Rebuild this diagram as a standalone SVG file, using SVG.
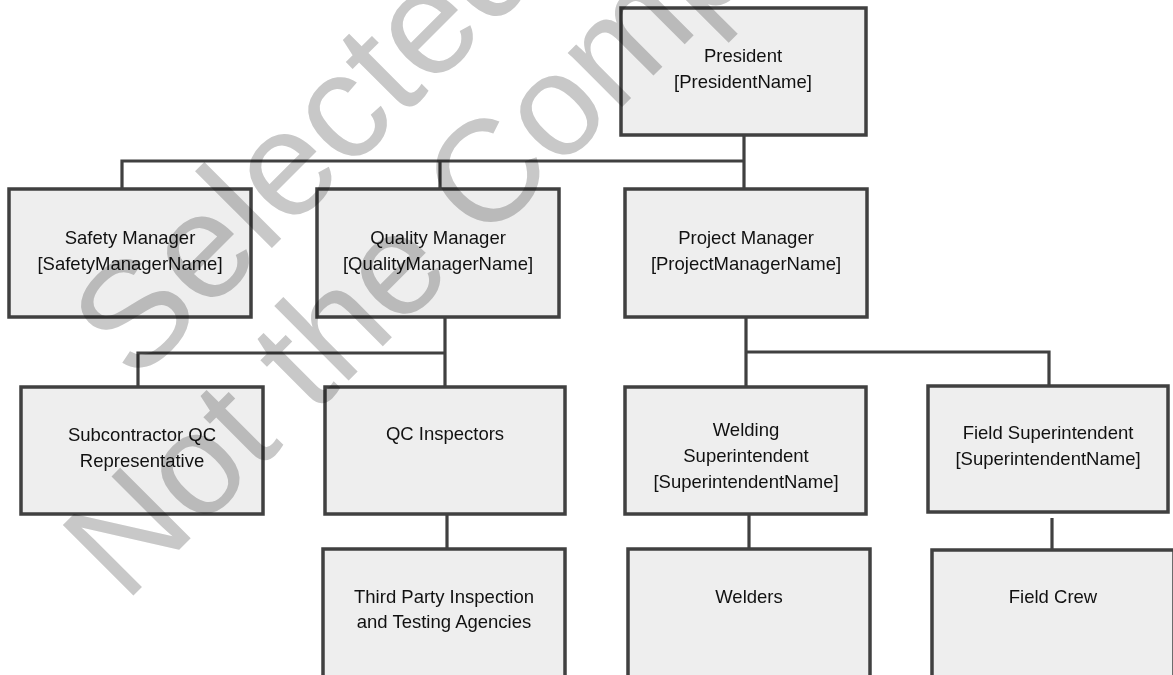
<svg xmlns="http://www.w3.org/2000/svg" width="1173" height="675" viewBox="0 0 1173 675">
<style>
.box{fill:#eeeeee;stroke:#404040;stroke-width:3.5}
.t{font-family:"Liberation Sans",Arial,sans-serif;font-size:18.5px;fill:#111;text-anchor:middle}
.c{fill:none;stroke:#404040;stroke-width:3.2}
.wm{font-family:"Liberation Sans",Arial,sans-serif;fill:#c8c8c8;mix-blend-mode:multiply}
</style>
<rect width="1173" height="675" fill="#ffffff"/>
<g id="connectors">
<path class="c" d="M744 135V189M122 189V161H744M440 161V189"/>
<path class="c" d="M445 317V387M138 387V353H445"/>
<path class="c" d="M746 317V387M746 352H1049V386"/>
<path class="c" d="M447 514V549"/>
<path class="c" d="M749 514V549"/>
<path class="c" d="M1052 518V550"/>
</g>
<g id="president"><rect class="box" x="621" y="8" width="245" height="127"/><text class="t" x="743" y="62">President</text><text class="t" x="743" y="88">[PresidentName]</text></g>
<g id="safety"><rect class="box" x="9" y="189" width="242" height="128"/><text class="t" x="130" y="244">Safety Manager</text><text class="t" x="130" y="270">[SafetyManagerName]</text></g>
<g id="quality"><rect class="box" x="317" y="189" width="242" height="128"/><text class="t" x="438" y="244">Quality Manager</text><text class="t" x="438" y="270">[QualityManagerName]</text></g>
<g id="project"><rect class="box" x="625" y="189" width="242" height="128"/><text class="t" x="746" y="244">Project Manager</text><text class="t" x="746" y="270">[ProjectManagerName]</text></g>
<g id="subcontractor"><rect class="box" x="21" y="387" width="242" height="127"/><text class="t" x="142" y="441">Subcontractor QC</text><text class="t" x="142" y="467">Representative</text></g>
<g id="qcinspectors"><rect class="box" x="325" y="387" width="240" height="127"/><text class="t" x="445" y="440">QC Inspectors</text></g>
<g id="thirdparty"><rect class="box" x="323" y="549" width="242" height="135"/><text class="t" x="444" y="603">Third Party Inspection</text><text class="t" x="444" y="628">and Testing Agencies</text></g>
<g id="welding"><rect class="box" x="625" y="387" width="241" height="127"/><text class="t" x="746" y="436">Welding</text><text class="t" x="746" y="462">Superintendent</text><text class="t" x="746" y="488">[SuperintendentName]</text></g>
<g id="fieldsup"><rect class="box" x="928" y="386" width="240" height="126"/><text class="t" x="1048" y="439">Field Superintendent</text><text class="t" x="1048" y="465">[SuperintendentName]</text></g>
<g id="welders"><rect class="box" x="628" y="549" width="242" height="135"/><text class="t" x="749" y="603">Welders</text></g>
<g id="fieldcrew"><rect class="box" x="932" y="550" width="242" height="135"/><text class="t" x="1053" y="603">Field Crew</text></g>
<g id="watermark">
<text class="wm" font-size="150" transform="translate(135 385) rotate(-45)">Selected</text>
<text class="wm" font-size="145" transform="translate(125 604) rotate(-45)">Not the Comp</text>
</g>
</svg>
